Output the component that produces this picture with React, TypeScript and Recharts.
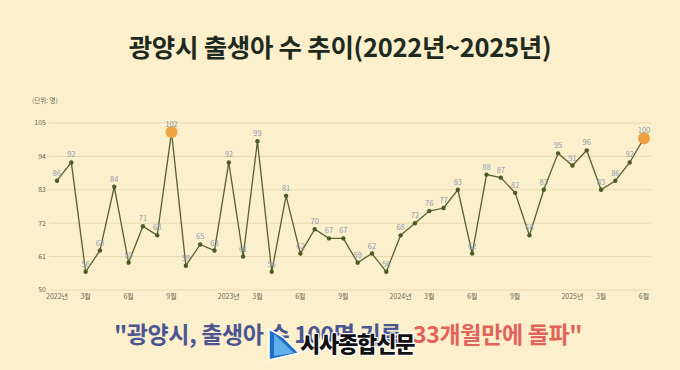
import React from 'react';
import { LineChart, Line, XAxis, YAxis, CartesianGrid, LabelList } from 'recharts';

const months = [
  '2022-01','2022-02','2022-03','2022-04','2022-05','2022-06','2022-07','2022-08','2022-09','2022-10','2022-11','2022-12',
  '2023-01','2023-02','2023-03','2023-04','2023-05','2023-06','2023-07','2023-08','2023-09','2023-10','2023-11','2023-12',
  '2024-01','2024-02','2024-03','2024-04','2024-05','2024-06','2024-07','2024-08','2024-09','2024-10','2024-11','2024-12',
  '2025-01','2025-02','2025-03','2025-04','2025-05','2025-06',
];
const births = [
  86, 92, 56, 63, 84, 59, 71, 68, 102, 58, 65, 63,
  92, 61, 99, 56, 81, 62, 70, 67, 67, 59, 62, 56,
  68, 72, 76, 77, 83, 62, 88, 87, 82, 68, 83, 95,
  91, 96, 83, 86, 92, 100,
];
const xTicks = [
  '2022-01','2022-03','2022-06','2022-09',
  '2023-01','2023-03','2023-06','2023-09',
  '2024-01','2024-03','2024-06','2024-09',
  '2025-01','2025-03','2025-06',
];
const yTicks = [50, 61, 72, 83, 94, 105];
const highlightMin = 100;

const data = months.map((m, i) => ({ month: m, value: births[i] }));

const fmtX = (m: string) => {
  const [y, mo] = m.split('-');
  return mo === '01' ? `${y}년` : `${parseInt(mo, 10)}월`;
};

const FONT = '"Noto Sans CJK KR", "Noto Sans", sans-serif';

const Dot = (props: any) => {
  const { cx, cy, value, index } = props;
  if (value >= highlightMin) {
    return <circle key={`d${index}`} cx={cx} cy={cy} r={6} fill="#f0a13f" stroke="none" />;
  }
  return <circle key={`d${index}`} cx={cx} cy={cy} r={2.2} fill="#4b5a26" stroke="none" />;
};

export default function App() {
  return (
    <div style={{ position: 'fixed', left: 0, top: 0, width: 680, height: 370, background: '#fcefcb', fontFamily: FONT, overflow: 'hidden' }}>
      <div style={{ position: 'absolute', left: 0, top: 29, width: 680, textAlign: 'center', fontSize: 25.5, fontWeight: 700, color: '#1e2a20', letterSpacing: -0.3, lineHeight: '34px', whiteSpace: 'nowrap' }}>
        광양시 출생아 수 추이(2022년~2025년)
      </div>
      <div style={{ position: 'absolute', left: 32, top: 95, fontSize: 6.5, color: '#6b6a60' }}>(단위: 명)</div>
      <div style={{ position: 'absolute', left: 0, top: 0 }}>
        <LineChart width={680} height={370} data={data} margin={{ top: 123, right: 29, bottom: 60, left: 0 }}>
          <CartesianGrid vertical={false} stroke="#e6d9b2" strokeWidth={1} />
          <XAxis
            dataKey="month"
            ticks={xTicks}
            interval={0}
            tickFormatter={fmtX}
            axisLine={false}
            tickLine={false}
            tickSize={0}
            tickMargin={4}
            height={20}
            padding={{ left: 8, right: 7 }}
            tick={{ fontSize: 7, fill: '#6e6a55', fontFamily: FONT }}
          />
          <YAxis
            domain={[50, 105]}
            ticks={yTicks}
            interval={0}
            axisLine={false}
            tickLine={false}
            tickSize={0}
            tickMargin={3}
            width={49}
            tick={{ fontSize: 7, fill: '#6e6a55', fontFamily: FONT }}
          />
          <Line
            type="linear"
            dataKey="value"
            stroke="#55602e"
            strokeWidth={1.3}
            dot={<Dot />}
            activeDot={false}
            isAnimationActive={false}
          >
            <LabelList dataKey="value" position="top" offset={5} style={{ fontSize: 7.5, fill: '#8e9bb0', fontFamily: FONT }} />
          </Line>
        </LineChart>
      </div>
      <div style={{ position: 'absolute', left: 8, top: 317, width: 680, textAlign: 'center', fontSize: 23, fontWeight: 700, lineHeight: '32px', letterSpacing: -0.35, whiteSpace: 'nowrap' }}>
        <span style={{ color: '#4a5592' }}>"광양시, 출생아 수 100명 기록, </span>
        <span style={{ color: '#e2625a' }}>33개월만에 돌파"</span>
      </div>
      <div style={{ position: 'absolute', left: 266, top: 322, width: 160, height: 42 }}>
        <svg width={38} height={42} style={{ position: 'absolute', left: 0, top: 0 }}>
          <path d="M3 7 L17 15 L33 31 L3 38 Z" fill="#1d6fc4" stroke="#ffffff" strokeWidth={1.5} />
          <path d="M8 12 L28 31 L8 34 Z" fill="#5fb0ea" />
        </svg>
        <div style={{ position: 'absolute', left: 34, top: 6, fontSize: 22, fontWeight: 900, color: '#111', lineHeight: '28px', letterSpacing: -1.2, whiteSpace: 'nowrap', textShadow: '1px 1px 0 #fff, -1px -1px 0 #fff, 1px -1px 0 #fff, -1px 1px 0 #fff' }}>
          시사종합신문
        </div>
      </div>
    </div>
  );
}
